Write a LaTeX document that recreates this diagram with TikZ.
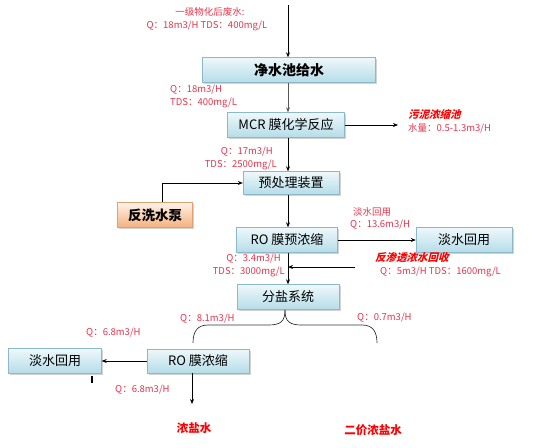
\documentclass[tikz,border=0pt]{standalone}
\usepackage{fontspec}
\setmainfont{Noto Sans CJK SC}
\newfontfamily\cjkit[FakeSlant=0.25]{Noto Sans CJK SC}
\usetikzlibrary{shadows,arrows.meta}
\definecolor{lbl}{HTML}{E8334A}
\definecolor{boxtop}{HTML}{EEF8FB}
\definecolor{boxbot}{HTML}{B5DCE8}
\definecolor{boxline}{HTML}{8DB8C8}
\definecolor{ortop}{HTML}{FFF3EA}
\definecolor{orbot}{HTML}{F4B07C}
\definecolor{orline}{HTML}{E2A070}
\tikzset{
  bx/.style={draw=boxline, top color=boxtop, bottom color=boxbot, minimum height=25pt,
    inner sep=0pt, font=\fontsize{13}{15}\selectfont, drop shadow={shadow xshift=1.5pt, shadow yshift=-1.5pt, opacity=0.35}},
  obx/.style={draw=orline, top color=ortop, bottom color=orbot, minimum height=25pt,
    inner sep=0pt, font=\fontsize{13.5}{15}\selectfont\bfseries, drop shadow={shadow xshift=1.5pt, shadow yshift=-1.5pt, opacity=0.35}},
  lb/.style={text=lbl, font=\fontsize{9.5}{11}\selectfont, inner sep=0pt},
  lbb/.style={text=red, font=\fontsize{11.5}{13}\selectfont\bfseries, inner sep=0pt},
  lbi/.style={text=red, font=\fontsize{10.5}{12}\selectfont\cjkit\bfseries, inner sep=0pt},
  ar/.style={-{Stealth[length=5pt,width=4pt]}, line width=0.7pt},
}
\begin{document}
\begin{tikzpicture}[x=1pt,y=-1pt]
\useasboundingbox (0,0) rectangle (538,447);
% boxes
\node[bx, minimum width=173pt, font=\fontsize{14}{16}\selectfont\bfseries] (jsc) at (289,70) {净水池给水};
\node[bx, minimum width=117pt] (mcr) at (286,125) {MCR 膜化学反应};
\node[bx, minimum width=96pt, minimum height=23pt] (ycl) at (291,183) {预处理装置};
\node[obx, minimum width=75pt] (fxb) at (155,215) {反洗水泵};
\node[bx, minimum width=101pt] (ro1) at (287,240) {RO 膜预浓缩};
\node[bx, minimum width=96pt] (dsr) at (464,240) {淡水回用};
\node[bx, minimum width=102pt] (fy) at (288,297) {分盐系统};
\node[bx, minimum width=102pt, minimum height=24pt] (ro2) at (198,361) {RO 膜浓缩};
\node[bx, minimum width=93pt] (dsl) at (55,361) {淡水回用};
% coordinates
\coordinate (in) at (288,5);
\coordinate (wn) at (398,125);
\coordinate (hs) at (355,267);
\coordinate (hsend) at (288,267);
\coordinate (bot) at (192,404);
\coordinate (bt) at (285,310);
\coordinate (bl) at (193,343);
\coordinate (br) at (377,343);
% connectors
\draw[ar] (in) -- (jsc.north -| in);
\draw[ar, draw=black!65] (jsc.south -| 288,0) -- (mcr.north -| 288,0);
\draw[ar] (mcr.east) -- (wn);
\draw[ar] (mcr.south -| 288,0) -- (ycl.north -| 288,0);
\draw[ar] (fxb.north -| 162,0) |- (ycl.west);
\draw[ar] (ycl.south -| 288,0) -- (ro1.north -| 288,0);
\draw[ar] (ro1.east) -- (dsr.west);
\draw[ar] (ro1.south -| 288,0) -- (fy.north -| 288,0);
\draw[ar] (hs) -- (hsend);
\draw[ar] (ro2.west) -- (dsl.east);
\draw[ar] (ro2.south -| bot) -- (bot);
\draw[line width=1.5pt] (92,376) -- (92,383);
% brace
\draw[line width=0.7pt, draw=black!80] (bt) .. controls (285,322) and (280,325) .. (268,325) -- (208,325) .. controls (197,325) and (193,332) .. (bl);
\draw[line width=0.7pt, draw=black!80] (bt) .. controls (285,322) and (290,325) .. (302,325) -- (362,325) .. controls (373,325) and (377,332) .. (br);
% labels
\node[lb] (t1) at (210,12) {一级物化后废水:};
\node[lb] (t2) at (207,26) {Q：18m3/H TDS：400mg/L};
\node[lb, anchor=west] (l1) at (170,90) {Q：18m3/H};
\node[lb, anchor=west] (l2) at (170,103) {TDS：400mg/L};
\node[lbi, anchor=west] (w1) at (408,115) {污泥浓缩池};
\node[lb, anchor=west] (w2) at (408,128) {水量：0.5-1.3m3/H};
\node[lb, anchor=east] (l3) at (273,152) {Q：17m3/H};
\node[lb, anchor=east] (l4) at (277,165) {TDS：2500mg/L};
\node[lb, anchor=west] (l5) at (353,212) {淡水回用};
\node[lb, anchor=west] (l6) at (350,225) {Q：13.6m3/H};
\node[lb, anchor=east] (l7) at (281,259) {Q：3.4m3/H};
\node[lb, anchor=east] (l8) at (285,272) {TDS：3000mg/L};
\node[lbi, anchor=west] (l9) at (375,258) {反渗透浓水回收};
\node[lb, anchor=west] (l10) at (380,272) {Q：5m3/H TDS：1600mg/L};
\node[lb, anchor=west] (l11) at (180,319) {Q：8.1m3/H};
\node[lb, anchor=west] (l12) at (357,318) {Q：0.7m3/H};
\node[lb, anchor=west] (l13) at (86,333) {Q：6.8m3/H};
\node[lb, anchor=west] (l14) at (115,390) {Q：6.8m3/H};
\node[lbb] (n1) at (194,428) {浓盐水};
\node[lbb] (n2) at (373,430) {二价浓盐水};
\end{tikzpicture}
\end{document}
